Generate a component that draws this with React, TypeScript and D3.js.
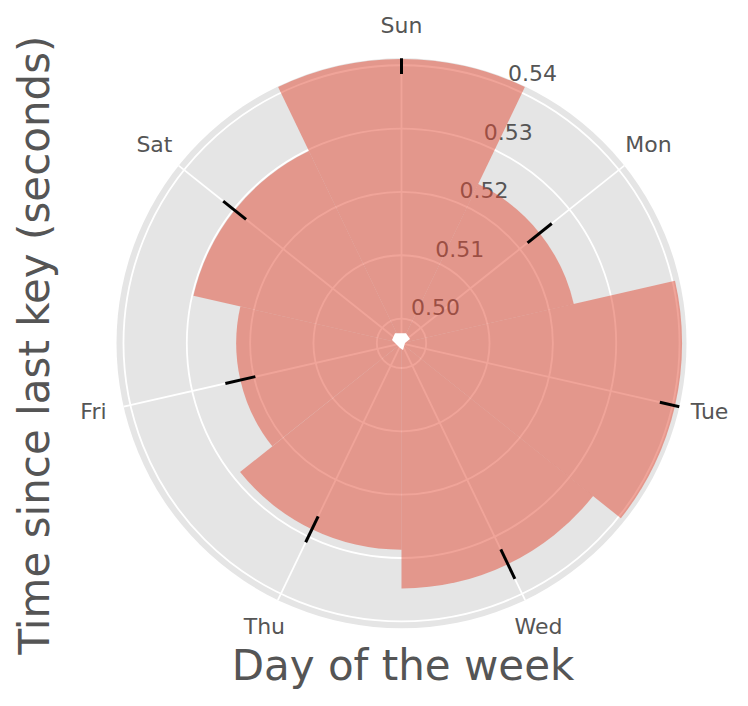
import React from "react";
import * as d3 from "d3";

// mean time between keystrokes per weekday, with its error
const days = ["Sun", "Mon", "Tue", "Wed", "Thu", "Fri", "Sat"];
const meanGap = [0.541, 0.524, 0.5404, 0.5348, 0.5287, 0.5222, 0.5298];
const gapErr = [0.00237, 0.00245, 0.00246, 0.00257, 0.00227, 0.00243, 0.00231];
const radialTicks = [0.5, 0.51, 0.52, 0.53, 0.54];

const W = 748;
const H = 706;
const cx = 401.5;
const cy = 343.3;
const R = 285;

const App = () => {
  const svgRef = React.useRef<SVGSVGElement>(null);

  React.useEffect(() => {
    const svg = d3.select(svgRef.current);
    svg.selectAll("*").remove();

    const r = d3.scaleLinear().domain([0.4961, 0.5411]).range([0, R]);
    const step = (2 * Math.PI) / days.length;
    const theta = (i: number) => i * step; // clockwise from north
    const px = (a: number, rr: number) => [Math.sin(a) * rr, -Math.cos(a) * rr];

    const defs = svg.append("defs");
    defs.append("clipPath").attr("id", "disc").append("circle").attr("r", R);

    const g = svg.append("g").attr("transform", `translate(${cx},${cy})`);

    // background
    g.append("circle").attr("r", R).attr("fill", "#E5E5E5");

    // grid circles
    g.append("g")
      .selectAll("circle")
      .data(radialTicks)
      .join("circle")
      .attr("r", (d) => r(d))
      .attr("fill", "none")
      .attr("stroke", "white")
      .attr("stroke-width", 1.8);

    // spokes
    g.append("g")
      .selectAll("line")
      .data(days)
      .join("line")
      .attr("x1", 0)
      .attr("y1", 0)
      .attr("x2", (_, i) => px(theta(i), R)[0])
      .attr("y2", (_, i) => px(theta(i), R)[1])
      .attr("stroke", "white")
      .attr("stroke-width", 1.8);

    // radial tick labels (under the bars)
    const la = (22.5 * Math.PI) / 180;
    g.append("g")
      .selectAll("text")
      .data(radialTicks)
      .join("text")
      .attr("x", (d) => px(la, r(d))[0])
      .attr("y", (d) => px(la, r(d))[1] - 5)
      .attr("font-family", "DejaVu Sans")
      .attr("font-size", 22)
      .attr("fill", "#555555")
      .text((d) => d.toFixed(2));

    // bars
    const arc = d3.arc<number>()
      .innerRadius(0)
      .outerRadius((d) => r(d))
      .startAngle((_, i) => theta(i) - step / 2)
      .endAngle((_, i) => theta(i) + step / 2);

    g.append("g")
      .selectAll("path")
      .data(meanGap)
      .join("path")
      .attr("d", (d, i) => arc(d, i) as string)
      .attr("fill", "#E24A33")
      .attr("fill-opacity", 0.5);

    // small white artefact at the origin
    const blob: [number, number][] = [
      [-6.5, -10], [4.5, -10], [8.5, -4.3], [3.5, -0.3], [1.5, 6.7], [-1.5, 4.7], [-9.5, -3.3],
    ];
    g.append("path")
      .attr("d", (d3.line()(blob) as string) + "Z")
      .attr("fill", "white");

    // error bars
    g.append("g")
      .attr("clip-path", "url(#disc)")
      .selectAll("line")
      .data(meanGap)
      .join("line")
      .attr("x1", (d, i) => px(theta(i), r(d - gapErr[i]))[0])
      .attr("y1", (d, i) => px(theta(i), r(d - gapErr[i]))[1])
      .attr("x2", (d, i) => px(theta(i), r(d + gapErr[i]))[0])
      .attr("y2", (d, i) => px(theta(i), r(d + gapErr[i]))[1])
      .attr("stroke", "black")
      .attr("stroke-width", 3);

    // day labels
    g.append("g")
      .selectAll("text")
      .data(days)
      .join("text")
      .attr("x", (_, i) => px(theta(i), R + 31)[0])
      .attr("y", (_, i) => px(theta(i), R + 31)[1] - 2)
      .attr("text-anchor", "middle")
      .attr("dominant-baseline", "central")
      .attr("font-family", "DejaVu Sans")
      .attr("font-size", 22)
      .attr("fill", "#555555")
      .text((d) => d);

    // axis titles
    svg.append("text")
      .attr("x", 403)
      .attr("y", 680)
      .attr("text-anchor", "middle")
      .attr("font-family", "DejaVu Sans")
      .attr("font-size", 42)
      .attr("fill", "#555555")
      .text("Day of the week");

    svg.append("text")
      .attr("transform", "translate(49,345) rotate(-90)")
      .attr("text-anchor", "middle")
      .attr("font-family", "DejaVu Sans")
      .attr("font-size", 42)
      .attr("fill", "#555555")
      .text("Time since last key (seconds)");
  }, []);

  return (
    <svg
      ref={svgRef}
      width={W}
      height={H}
      style={{ position: "absolute", left: 0, top: 0, background: "white" }}
    />
  );
};

export default App;
